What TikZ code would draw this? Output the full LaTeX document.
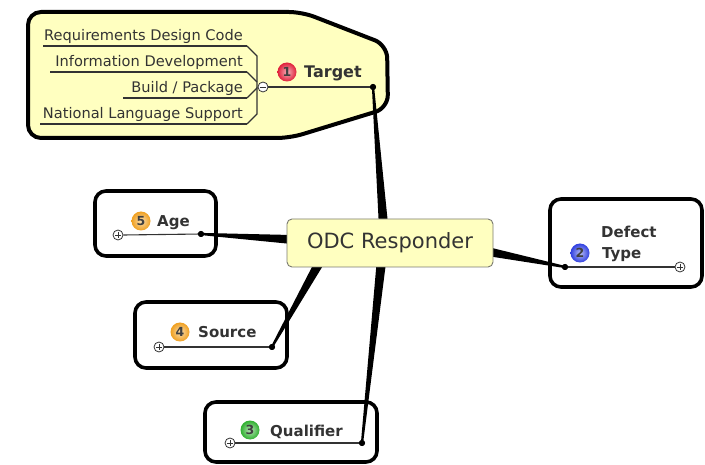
\documentclass[tikz,border=0pt]{standalone}
\usepackage{fontspec}
\setmainfont{DejaVu Sans}
\usetikzlibrary{calc}
\definecolor{topicfill}{HTML}{FFFFC0}
\definecolor{inkgray}{HTML}{333333}
\definecolor{edgegray}{HTML}{7A7A70}
\definecolor{badgered}{HTML}{E0203A}
\definecolor{badgeorange}{HTML}{F0A020}
\definecolor{badgegreen}{HTML}{30B030}
\definecolor{badgeblue}{HTML}{3040E0}
% tapered branch: thick at the central topic, thin at the subtopic
\newcommand\taper[2]{\fill[black] ($(#1)!4.8pt!90:(#2)$) -- ($(#2)!1.1pt!-90:(#1)$) -- ($(#2)!1.1pt!90:(#1)$) -- ($(#1)!4.8pt!-90:(#2)$) -- cycle;}
\tikzset{
  x=1pt, y=-1pt,
  topicbox/.style={draw=black, line width=3.6pt, fill=white, rounded corners=11pt},
  label/.style={text=inkgray, font=\fontsize{15}{17}\selectfont\bfseries, inner sep=0pt},
  sublabel/.style={text=inkgray, font=\fontsize{14.6}{16}\selectfont, inner sep=0pt, anchor=base east},
  underline/.style={draw=inkgray, line width=1.1pt},
  knot/.style={circle, fill=black, inner sep=0pt, minimum size=6pt},
  toggle/.style={circle, draw=inkgray, fill=white, line width=0.8pt, inner sep=0pt, minimum size=10pt},
  badge/.style={circle, inner sep=0pt, minimum size=19pt, shading=radial,
                inner color=#1!35!white, outer color=#1, text=black!75,
                font=\fontsize{12.5}{12.5}\selectfont\bfseries},
}
\newcommand\plussign[1]{\draw[inkgray, line width=0.8pt] ($(#1)+(-3,0)$) -- ($(#1)+(3,0)$) ($(#1)+(0,-3)$) -- ($(#1)+(0,3)$);}
\newcommand\minussign[1]{\draw[inkgray, line width=0.9pt] ($(#1)+(-3,0)$) -- ($(#1)+(3,0)$);}
\begin{document}
\begin{tikzpicture}
\useasboundingbox (0,0) rectangle (705,465);
\fill[white] (0,0) rectangle (705,465);

% ---- Target topic (expanded, with its four subtopics)
\draw[line width=4pt, fill=topicfill, rounded corners=13pt]
  (28,12) -- (302,12) -- (387,45) -- (388,108) -- (290,138) -- (28,138) -- cycle;

\node[sublabel] (s1) at (243,41) {Requirements Design Code};
\node[sublabel] (s2) at (243,67) {Information Development};
\node[sublabel] (s3) at (243,93) {Build / Package};
\node[sublabel] (s4) at (243,119) {National Language Support};
\coordinate (s1e) at (247,46);
\coordinate (s2e) at (247,72);
\coordinate (s3e) at (247,98);
\coordinate (s4e) at (247,124);
\draw[underline] (43,46) -- (s1e);
\draw[underline] (50,72) -- (s2e);
\draw[underline] (123,98) -- (s3e);
\draw[underline] (40,124) -- (s4e);

\node[toggle] (tt) at (263,87) {};
\minussign{tt}
\draw[underline] (s1e) -- (257,56) -- (257,87) -- (tt.west);
\draw[underline] (s4e) -- (257,114) -- (257,87);
\draw[underline] (s2e) -- (257,82);
\draw[underline] (s3e) -- (257,88);

\node[badge=badgered] (b1) at (287,72) {1};
\node[label, anchor=base west, font=\fontsize{16}{18}\selectfont\bfseries] (target) at (304,78) {Target};
\node[knot] (tdot) at (373,87) {};
\draw[underline] (tt.east) -- (tdot);

% ---- Age
\draw[topicbox] (95,191) rectangle (216,256);
\node[badge=badgeorange] (b5) at (141,221) {5};
\node[label, anchor=base west] (age) at (157,227) {Age};
\node[toggle] (at) at (118,235) {};
\plussign{at}
\node[knot] (adot) at (201,234) {};
\draw[underline] (at.east) -- (adot);

% ---- Source
\draw[topicbox] (135,302) rectangle (287,368);
\node[badge=badgeorange] (b4) at (180,332) {4};
\node[label, anchor=base west] (source) at (198,338) {Source};
\node[toggle] (st) at (159,347) {};
\plussign{st}
\node[knot] (sdot) at (272,347) {};
\draw[underline] (st.east) -- (sdot);

% ---- Qualifier
\draw[topicbox] (205,402) rectangle (377,462);
\node[badge=badgegreen] (b3) at (250,430) {3};
\node[label, anchor=base west] (qual) at (270,436) {Qualifier};
\node[toggle] (qt) at (230,443) {};
\plussign{qt}
\node[knot] (qdot) at (362,443) {};
\draw[underline] (qt.east) -- (qdot);

% ---- Defect Type
\draw[topicbox] (550,199) rectangle (702,287);
\node[label, anchor=base west] (defect) at (601,238) {Defect};
\node[badge=badgeblue] (b2) at (580,253) {2};
\node[label, anchor=base west] (dtype) at (602,259) {Type};
\node[knot] (ddot) at (565,267) {};
\node[toggle] (dt) at (680,267) {};
\plussign{dt}
\draw[underline] (ddot) -- (dt.west);

% ---- branches into the central topic
\coordinate (ct) at (384,232);
\coordinate (ca) at (300,240);
\coordinate (cs) at (322,258);
\coordinate (cq) at (382,256);
\coordinate (cd) at (480,250);
\taper{ct}{tdot}
\taper{ca}{adot}
\taper{cs}{sdot}
\taper{cq}{qdot}
\taper{cd}{ddot}
\node[knot] at (tdot) {};
\node[knot] at (adot) {};
\node[knot] at (sdot) {};
\node[knot] at (qdot) {};
\node[knot] at (ddot) {};

% ---- central topic
\node[draw=edgegray, line width=0.9pt, fill=topicfill, rounded corners=5pt,
      minimum width=206pt, minimum height=48pt, text=inkgray,
      font=\fontsize{21}{24}\selectfont] (odc) at (390,243) {ODC Responder};
\end{tikzpicture}
\end{document}
